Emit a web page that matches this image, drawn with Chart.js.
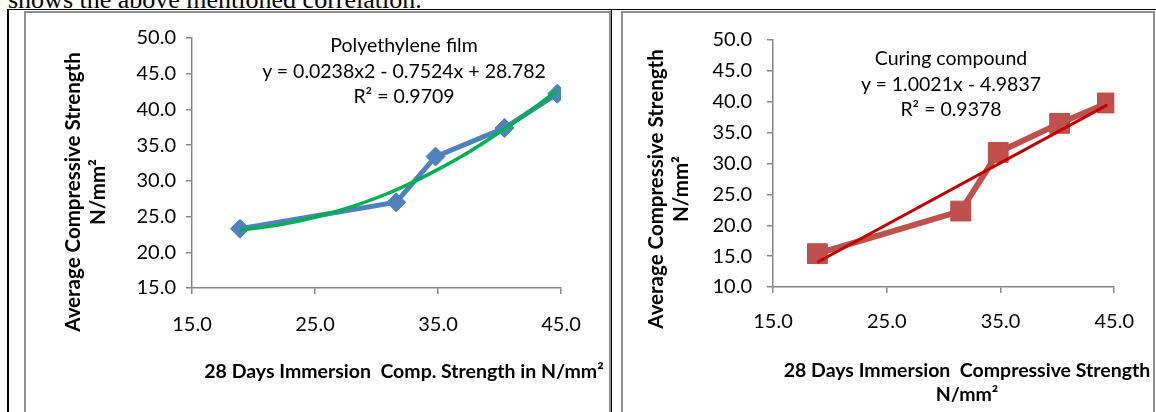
<!DOCTYPE html>
<html>
<head>
<meta charset="utf-8">
<script src="https://cdn.jsdelivr.net/npm/chart.js@4.4.1/dist/chart.umd.min.js"></script>
<style>
    body { margin: 0; width: 1156px; height: 412px; overflow: hidden; background: #fff; font-family: Lato, "Open Sans", sans-serif; }
    .lead { position: absolute; left: 8px; top: -13px; font-family: "Liberation Serif", serif; font-size: 26px; line-height: 26px; white-space: nowrap; }
    .frame { position: absolute; left: 7px; top: 9px; width: 1200px; height: 450px; border-left: 2px solid #000; border-top: 1.5px solid #000; background: #fff; }
    .divider { position: absolute; left: 611px; top: 10px; width: 1px; height: 410px; background: #000; }
    .panel { position: absolute; top: 11px; height: 420px; border: 2px solid #8f8f8f; box-sizing: border-box; }
    canvas { position: absolute; }
    .txt { position: absolute; text-align: center; white-space: pre; color: #000; }
    .note { font-size: 19.5px; line-height: 25.5px; width: 600px; }
    .ytitle { font-size: 20.5px; font-weight: bold; line-height: 25px; width: 400px; height: 50px; transform: rotate(-90deg); }
    .xtitle { font-size: 19.5px; font-weight: bold; line-height: 24px; width: 600px; }
</style>
</head>
<body>
    <div class="lead">shows the above mentioned correlation.</div>
    <div class="frame"></div>
    <div class="divider"></div>
    <div class="panel" style="left: 24px; width: 587px;"></div>
    <div class="panel" style="left: 621px; width: 534px;"></div>

    <!-- LEFT: POLYETHYLENE FILM -->
    <canvas id="filmChart" width="583" height="330" style="left: 26px; top: 13px;"></canvas>
    <div class="txt note" style="left: 104px; top: 32px;">Polyethylene film
y = 0.0238x2 - 0.7524x + 28.782
R² = 0.9709</div>
    <div class="txt ytitle" style="left: -115px; top: 167px;">Average Compressive Strength
N/mm²</div>
    <div class="txt xtitle" style="left: 104px; top: 359px;">28 Days Immersion  Comp. Strength in N/mm²</div>

    <!-- RIGHT: CURING COMPOUND -->
    <canvas id="curingChart" width="528" height="330" style="left: 623px; top: 13px;"></canvas>
    <div class="txt note" style="left: 651px; top: 45px;">Curing compound
y = 1.0021x - 4.9837
R² = 0.9378</div>
    <div class="txt ytitle" style="left: 468px; top: 164px;">Average Compressive Strength
N/mm²</div>
    <div class="txt xtitle" style="left: 667px; top: 358px;">28 Days Immersion  Compressive Strength
N/mm²</div>

<script>
// x = 28 days immersion strength, y = average compressive strength
const filmX = [18.9, 31.6, 34.8, 40.4, 44.7]
const filmY = [23.3, 27.0, 33.4, 37.4, 42.2]
// points read along the green poly trendline
const filmTrendX = [18.9, 22, 25, 28, 31, 34, 37, 40, 42.5, 44.7]
const filmTrendY = [23.1, 23.8, 24.9, 26.4, 28.3, 30.7, 33.5, 36.8, 39.8, 42.7]

const curingX = [18.9, 31.5, 34.8, 40.2, 44.4]
const curingY = [15.4, 22.3, 31.8, 36.5, 39.8]
// ends of the red linear trendline
const curingTrendX = [18.9, 44.4]
const curingTrendY = [14.0, 39.5]

const xTicks = [15, 25, 35, 45]
const filmYRange = [15, 50]
const curingYRange = [10, 50]

Chart.defaults.font.family = "Lato"
Chart.defaults.font.size = 20
Chart.defaults.color = "#000"

function pts(xs, ys) {
    return xs.map((x, i) => ({ x: x, y: ys[i] }))
}

function makeChart(id, opts) {
    const axisGray = "#868686"
    new Chart(document.getElementById(id), {
        type: "scatter",
        data: {
            datasets: [
                {
                    data: pts(opts.trendX, opts.trendY),
                    showLine: true,
                    borderColor: opts.trendColor,
                    borderWidth: opts.trendWidth,
                    pointRadius: 0,
                    cubicInterpolationMode: "monotone",
                    order: 0
                },
                {
                    data: pts(opts.x, opts.y),
                    showLine: true,
                    borderColor: opts.color,
                    borderWidth: opts.lineWidth,
                    backgroundColor: opts.color,
                    pointStyle: opts.marker,
                    pointRadius: opts.markerSize,
                    pointBorderColor: opts.markerBorder,
                    pointBorderWidth: 1,
                    order: 1
                }
            ]
        },
        options: {
            responsive: false,
            devicePixelRatio: 1,
            animation: false,
            layout: { padding: opts.padding },
            plugins: { legend: { display: false }, tooltip: { enabled: false } },
            scales: {
                x: {
                    type: "linear",
                    min: xTicks[0],
                    max: xTicks[xTicks.length - 1],
                    afterBuildTicks: s => { s.ticks = xTicks.map(v => ({ value: v })) },
                    afterFit: s => { s.height = opts.xHeight },
                    ticks: { padding: opts.xPad, callback: v => v.toFixed(1), maxRotation: 0 },
                    grid: { drawOnChartArea: false, drawTicks: true, tickLength: 6, color: axisGray, lineWidth: 1.5 },
                    border: { color: axisGray, width: 1.5 }
                },
                y: {
                    min: opts.yRange[0],
                    max: opts.yRange[1],
                    afterFit: s => { s.width = opts.yWidth },
                    ticks: { stepSize: 5, padding: opts.yPad, callback: v => v.toFixed(1) },
                    grid: { drawOnChartArea: false, drawTicks: true, tickLength: 6, color: axisGray, lineWidth: 1.5 },
                    border: { color: axisGray, width: 1.5 }
                }
            }
        }
    })
}

makeChart("filmChart", {
    x: filmX, y: filmY, trendX: filmTrendX, trendY: filmTrendY,
    color: "#4F81BD", markerBorder: "#4A7EBB", marker: "rectRot", markerSize: 9.5, lineWidth: 5,
    trendColor: "#00B050", trendWidth: 3.5,
    yRange: filmYRange,
    padding: { top: 25, right: 48, left: 0, bottom: 0 },
    yWidth: 166, xHeight: 55, xPad: 19, yPad: 10
})

makeChart("curingChart", {
    x: curingX, y: curingY, trendX: curingTrendX, trendY: curingTrendY,
    color: "#C0504D", markerBorder: "#BE4B48", marker: "rect", markerSize: 14, lineWidth: 6,
    trendColor: "#C00000", trendWidth: 3,
    yRange: curingYRange,
    padding: { top: 22, right: 28, left: 0, bottom: 0 },
    yWidth: 150, xHeight: 56, xPad: 17, yPad: 15
})
</script>
</body>
</html>
